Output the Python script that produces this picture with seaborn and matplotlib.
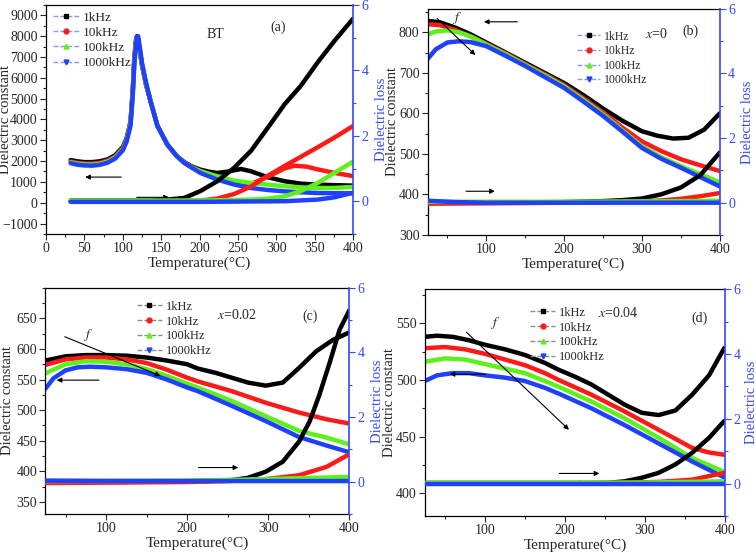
import pandas as pd
import matplotlib
matplotlib.use("Agg")
import matplotlib.pyplot as plt
from matplotlib import font_manager
from matplotlib.lines import Line2D
from matplotlib.ticker import MultipleLocator
import seaborn as sns

FREQS = ["1kHz", "10kHz", "100kHz", "1000kHz"]
COLORS = ["#000000", "#ff1a1a", "#5ef01a", "#2040ff"]
MARKERS = ["s", "o", "^", "v"]
LOSS_BLUE = "#3348ff"

# ---- panel (a): BT ----
a_eps = {
    "1kHz": ([32, 40, 50, 60, 70, 80, 90, 100, 105, 110, 113, 115, 117, 118.5, 120, 122, 125, 130, 136, 145, 158, 170, 180, 190, 201, 212, 223, 236, 254, 267, 289, 311, 332, 354, 400],
             [2050, 1990, 1950, 1950, 1990, 2080, 2280, 2680, 3100, 3900, 5500, 7000, 7800, 8000, 7800, 7300, 6600, 5700, 4900, 3700, 2790, 2250, 1950, 1740, 1590, 1490, 1430, 1490, 1620, 1510, 1220, 1030, 915, 867, 820]),
    "10kHz": ([32, 40, 50, 60, 70, 80, 90, 100, 105, 110, 113, 115, 117, 118.5, 120, 122, 125, 130, 136, 145, 158, 170, 180, 190, 201, 223, 245, 258, 267, 289, 311, 324, 340, 354, 376, 400],
              [1980, 1920, 1880, 1880, 1920, 2020, 2220, 2620, 3050, 3850, 5400, 6900, 7700, 7950, 7800, 7300, 6600, 5700, 4900, 3700, 2790, 2250, 1930, 1700, 1540, 1220, 960, 890, 900, 1250, 1650, 1780, 1730, 1600, 1430, 1280]),
    "100kHz": ([32, 40, 50, 60, 70, 80, 90, 100, 105, 110, 113, 115, 117, 118.5, 120, 122, 125, 130, 136, 145, 158, 170, 180, 190, 201, 223, 245, 267, 289, 311, 332, 354, 376, 400],
               [1940, 1880, 1840, 1830, 1870, 1970, 2170, 2570, 3000, 3800, 5300, 6800, 7600, 7900, 7850, 7350, 6650, 5750, 4900, 3700, 2790, 2250, 1910, 1700, 1510, 1270, 1060, 950, 870, 790, 740, 706, 710, 760]),
    "1000kHz": ([32, 40, 50, 60, 70, 80, 90, 100, 105, 110, 113, 115, 117, 118.5, 120, 122, 125, 130, 136, 145, 158, 170, 180, 190, 201, 223, 245, 267, 289, 311, 332, 354, 400],
                [1900, 1830, 1790, 1780, 1820, 1920, 2120, 2520, 2950, 3700, 5200, 6700, 7500, 7950, 8000, 7500, 6700, 5800, 4880, 3700, 2790, 2250, 1910, 1680, 1430, 1110, 870, 706, 610, 545, 500, 465, 450]),
}
a_loss = {
    "1kHz": ([32, 136, 158, 180, 201, 223, 245, 267, 289, 311, 332, 354, 376, 400],
             [0.02, 0.02, 0.05, 0.1, 0.31, 0.61, 1.02, 1.54, 2.25, 2.97, 3.53, 4.25, 4.91, 5.58]),
    "10kHz": ([32, 150, 201, 223, 245, 267, 289, 311, 332, 354, 376, 400],
              [0.0, 0.0, 0.02, 0.08, 0.22, 0.45, 0.78, 1.08, 1.36, 1.65, 1.95, 2.3]),
    "100kHz": ([32, 200, 267, 289, 311, 332, 354, 376, 400],
               [0.02, 0.02, 0.05, 0.08, 0.15, 0.31, 0.56, 0.87, 1.21]),
    "1000kHz": ([32, 200, 311, 354, 376, 400],
                [-0.02, -0.02, 0.0, 0.05, 0.12, 0.26]),
}

# ---- panel (b): x=0 ----
b_eps = {
    "1kHz": ([25, 40, 60, 80, 100, 125, 150, 175, 200, 225, 250, 275, 300, 320, 340, 360, 380, 400],
             [828, 825, 812, 795, 775, 750, 725, 700, 675, 645, 612, 582, 556, 545, 538, 540, 560, 600]),
    "10kHz": ([25, 40, 60, 80, 100, 125, 150, 175, 200, 225, 250, 275, 300, 325, 350, 375, 400],
              [820, 818, 806, 790, 772, 748, 722, 697, 670, 637, 603, 565, 531, 507, 487, 472, 458]),
    "100kHz": ([25, 35, 50, 65, 80, 100, 125, 150, 175, 200, 225, 250, 275, 300, 325, 350, 375, 400],
               [795, 802, 805, 800, 790, 770, 746, 720, 694, 667, 633, 598, 558, 519, 492, 470, 450, 430]),
    "1000kHz": ([25, 35, 50, 65, 80, 100, 125, 150, 175, 200, 225, 250, 275, 300, 325, 350, 375, 400],
                [735, 758, 775, 778, 776, 766, 742, 717, 690, 663, 629, 594, 555, 515, 488, 466, 443, 420]),
}
b_loss = {
    "1kHz": ([25, 100, 200, 250, 275, 300, 325, 350, 375, 400],
             [0.02, 0.0, 0.02, 0.05, 0.08, 0.13, 0.26, 0.47, 0.85, 1.55]),
    "10kHz": ([25, 100, 200, 300, 325, 350, 375, 400],
              [-0.03, -0.02, 0.0, 0.04, 0.07, 0.12, 0.2, 0.3]),
    "100kHz": ([25, 100, 200, 300, 400],
               [0.03, 0.03, 0.03, 0.04, 0.06]),
    "1000kHz": ([25, 60, 100, 200, 300, 400],
                [0.06, 0.02, 0.0, 0.0, 0.0, 0.0]),
}

# ---- panel (c): x=0.02 ----
c_eps = {
    "1kHz": ([25, 50, 75, 100, 125, 150, 175, 200, 213, 235, 255, 275, 297, 318, 338, 359, 380, 400],
             [581, 588, 590, 590, 589, 586, 581, 575, 568, 561, 553, 545, 540, 545, 569, 596, 615, 627]),
    "10kHz": ([25, 50, 75, 100, 125, 150, 175, 200, 213, 255, 297, 338, 372, 400],
              [574, 583, 586, 586, 583, 577, 566, 553, 547, 531, 512, 496, 485, 478]),
    "100kHz": ([25, 50, 75, 100, 125, 150, 175, 200, 213, 255, 297, 338, 372, 400],
               [560, 575, 580, 579, 575, 567, 556, 543, 537, 515, 490, 466, 455, 444]),
    "1000kHz": ([25, 35, 50, 65, 80, 100, 125, 150, 175, 200, 213, 255, 297, 338, 372, 400],
                [535, 552, 565, 570, 571, 570, 567, 561, 550, 537, 531, 507, 482, 456, 442, 431]),
}
c_loss = {
    "1kHz": ([25, 100, 200, 240, 255, 275, 297, 318, 338, 351, 363, 376, 388, 400],
             [0.02, 0.02, 0.02, 0.03, 0.05, 0.12, 0.31, 0.62, 1.24, 1.86, 2.68, 3.7, 4.7, 5.3]),
    "10kHz": ([25, 100, 200, 250, 297, 338, 372, 400],
              [-0.04, -0.03, -0.01, 0.02, 0.08, 0.2, 0.46, 0.85]),
    "100kHz": ([25, 100, 200, 297, 400],
               [0.02, 0.02, 0.03, 0.08, 0.15]),
    "1000kHz": ([25, 100, 200, 300, 400],
                [0.03, 0.02, 0.02, 0.02, 0.02]),
}

# ---- panel (d): x=0.04 ----
d_eps = {
    "1kHz": ([25, 40, 60, 80, 100, 125, 150, 175, 192, 212, 233, 254, 275, 296, 317, 338, 359, 380, 399],
             [538, 539, 538, 535, 531, 527, 522, 515, 509, 503, 496, 487, 478, 471, 469, 473, 487, 504, 528]),
    "10kHz": ([25, 50, 75, 100, 125, 150, 175, 192, 233, 275, 317, 359, 380, 399],
              [528, 529, 527, 523, 518, 513, 506, 500, 487, 472, 456, 440, 436, 434]),
    "100kHz": ([25, 50, 75, 100, 125, 150, 175, 192, 233, 275, 317, 359, 399],
               [516, 519, 518, 514, 510, 506, 499, 494, 481, 466, 449, 431, 419]),
    "1000kHz": ([25, 40, 60, 80, 100, 125, 150, 175, 192, 233, 275, 317, 359, 399],
                [499, 504, 506, 506, 504, 502, 499, 493, 488, 475, 460, 444, 428, 414]),
}
d_loss = {
    "1kHz": ([25, 100, 200, 254, 275, 296, 317, 338, 359, 380, 399],
             [0.02, 0.02, 0.02, 0.02, 0.07, 0.18, 0.33, 0.59, 0.95, 1.41, 1.93]),
    "10kHz": ([25, 100, 200, 317, 359, 399],
              [0.0, 0.0, 0.0, 0.05, 0.12, 0.33]),
    "100kHz": ([25, 200, 300, 399],
               [0.02, 0.02, 0.03, 0.07]),
    "1000kHz": ([25, 200, 399],
                [0.0, 0.0, 0.0]),
}


def to_frame(series):
    parts = []
    for f, (t, v) in series.items():
        parts.append(pd.DataFrame({"T": t, "val": v, "freq": f}))
    return pd.concat(parts, ignore_index=True)


def pick_serif():
    names = {f.name for f in font_manager.fontManager.ttflist}
    for n in ["Liberation Serif", "Times New Roman", "Nimbus Roman", "STIXGeneral", "DejaVu Serif"]:
        if n in names:
            return n
    return "serif"


def draw_panel(fig, p):
    ax = fig.add_axes(p["rect"])
    ax2 = ax.twinx()
    pal = dict(zip(FREQS, COLORS))

    sns.lineplot(data=to_frame(p["eps"]), x="T", y="val", hue="freq", hue_order=FREQS,
                 palette=pal, lw=3.2, legend=False, ax=ax, sort=False, estimator=None,
                 solid_capstyle="round")
    sns.lineplot(data=to_frame(p["loss"]), x="T", y="val", hue="freq", hue_order=FREQS,
                 palette=pal, lw=3.2, legend=False, ax=ax2, sort=False, estimator=None,
                 solid_capstyle="round")

    ax.set_xlim(p["xlim"])
    ax.set_ylim(p["ylim"])
    ax.xaxis.set_major_locator(MultipleLocator(p["xmajor"]))
    ax.xaxis.set_minor_locator(MultipleLocator(p["xmajor"] / 2))
    ax.yaxis.set_major_locator(MultipleLocator(p["ymajor"]))
    ax.yaxis.set_minor_locator(MultipleLocator(p["ymajor"] / 2))
    ax.set_yticks([t for t in ax.get_yticks() if p["ylim"][0] <= t <= p["ylim"][1] - p["ymajor"] * 0.3])
    ax.set_xlabel("Temperature(°C)", fontsize=11, labelpad=1)
    ax.set_ylabel("Dielectric constant", fontsize=10.5)
    ax.yaxis.set_label_coords(p["labx"][0], 0.5)
    ax.tick_params(which="major", direction="out", length=4, width=0.8, labelsize=10, pad=2)
    ax.tick_params(which="minor", direction="out", length=2, width=0.8)
    ax.spines["right"].set_visible(False)

    ax2.set_ylim(-1, 6)
    ax2.set_yticks([0, 2, 4, 6])
    ax2.yaxis.set_minor_locator(MultipleLocator(1))
    ax2.set_ylabel("Dielectric loss", color=LOSS_BLUE, fontsize=10.5)
    ax2.yaxis.set_label_coords(p["labx"][1], 0.5)
    ax2.tick_params(axis="y", which="major", direction="out", length=4, width=0.8,
                    colors=LOSS_BLUE, labelsize=10, pad=2)
    ax2.tick_params(axis="y", which="minor", direction="out", length=2, width=0.8, colors=LOSS_BLUE)
    ax2.spines["right"].set_color(LOSS_BLUE)
    ax2.spines["right"].set_linewidth(1.2)
    for s in ["left", "top", "bottom"]:
        ax2.spines[s].set_visible(False)
    for s in ["left", "top", "bottom"]:
        ax.spines[s].set_linewidth(0.9)
        ax.spines[s].set_color("black")

    handles = [Line2D([], [], color=p["legcolor"], ls=(0, (3.5, 1.5)), lw=1.0, marker=m,
                      markersize=3.5, markerfacecolor=c, markeredgecolor=c)
               for c, m in zip(COLORS, MARKERS)]
    ax.legend(handles, FREQS, loc="upper left", bbox_to_anchor=p["legpos"], frameon=False,
              fontsize=p["legfs"], handlelength=2.0, labelspacing=0.22, handletextpad=0.3,
              borderaxespad=0.1)

    for txt, x, y in p["texts"]:
        ax.text(x, y, txt, fontsize=10, ha="center", va="center")

    for (x0, y0), (x1, y1) in p["arrows"]:
        ax.annotate("", xy=(x1, y1), xytext=(x0, y0),
                    arrowprops=dict(arrowstyle="-|>", color="black", lw=0.8,
                                    mutation_scale=7, shrinkA=0, shrinkB=0))
    return ax


sns.set_style("ticks")
serif = pick_serif()
plt.rcParams["font.family"] = [serif, "DejaVu Serif"]
plt.rcParams["mathtext.fontset"] = "stix"

fig = plt.figure(figsize=(7.56, 5.53), dpi=100)

panels = [
    dict(rect=[0.061, 0.577, 0.406, 0.414], eps=a_eps, loss=a_loss, xlim=(0, 400), xmajor=50,
         ylim=(-1500, 9500), ymajor=1000, legpos=(0.0, 1.0), legcolor="#8a9ae8", legfs=9.5,
         labx=(-0.11, 1.07),
         texts=[("BT", 220, 8100), ("(a)", 302, 8430)],
         arrows=[((98, 1230), (51, 1230)), ((118, 258), (160, 258))]),
    dict(rect=[0.566, 0.575, 0.386, 0.409], eps=b_eps, loss=b_loss, xlim=(25, 400), xmajor=100,
         ylim=(300, 858), ymajor=100, legpos=(0.49, 0.93), legcolor="#8a9ae8", legfs=8.5,
         labx=(-0.098, 1.072),
         texts=[("$x$=0", 318, 796), ("(b)", 362, 802), ("$f$", 63, 836)],
         arrows=[((140, 826), (97, 826)), ((74, 408), (111, 408)), ((37, 834), (86, 744))]),
    dict(rect=[0.060, 0.0705, 0.402, 0.409], eps=c_eps, loss=c_loss, xlim=(25, 400), xmajor=100,
         ylim=(330, 700), ymajor=50, legpos=(0.28, 0.97), legcolor="#8c8c8c", legfs=9,
         labx=(-0.103, 1.07),
         texts=[("$x$=0.02", 262, 655), ("(c)", 352, 653), ("$f$", 77, 623)],
         arrows=[((91, 549), (39, 549)), ((214, 406), (263, 406)), ((49, 620), (167, 556))]),
    dict(rect=[0.562, 0.067, 0.397, 0.410], eps=d_eps, loss=d_loss, xlim=(25, 400), xmajor=100,
         ylim=(380, 580), ymajor=50, legpos=(0.33, 0.95), legcolor="#8c8c8c", legfs=9,
         labx=(-0.097, 1.065),
         texts=[("$x$=0.04", 266, 559), ("(d)", 368, 554), ("$f$", 112, 550)],
         arrows=[((101, 505), (56, 505)), ((193, 417.5), (243, 417.5)),
                 ((156, 409), (226, 409)), ((77, 542), (205, 456))]),
]

for p in panels:
    draw_panel(fig, p)

fig.savefig("out.png", dpi=100)
